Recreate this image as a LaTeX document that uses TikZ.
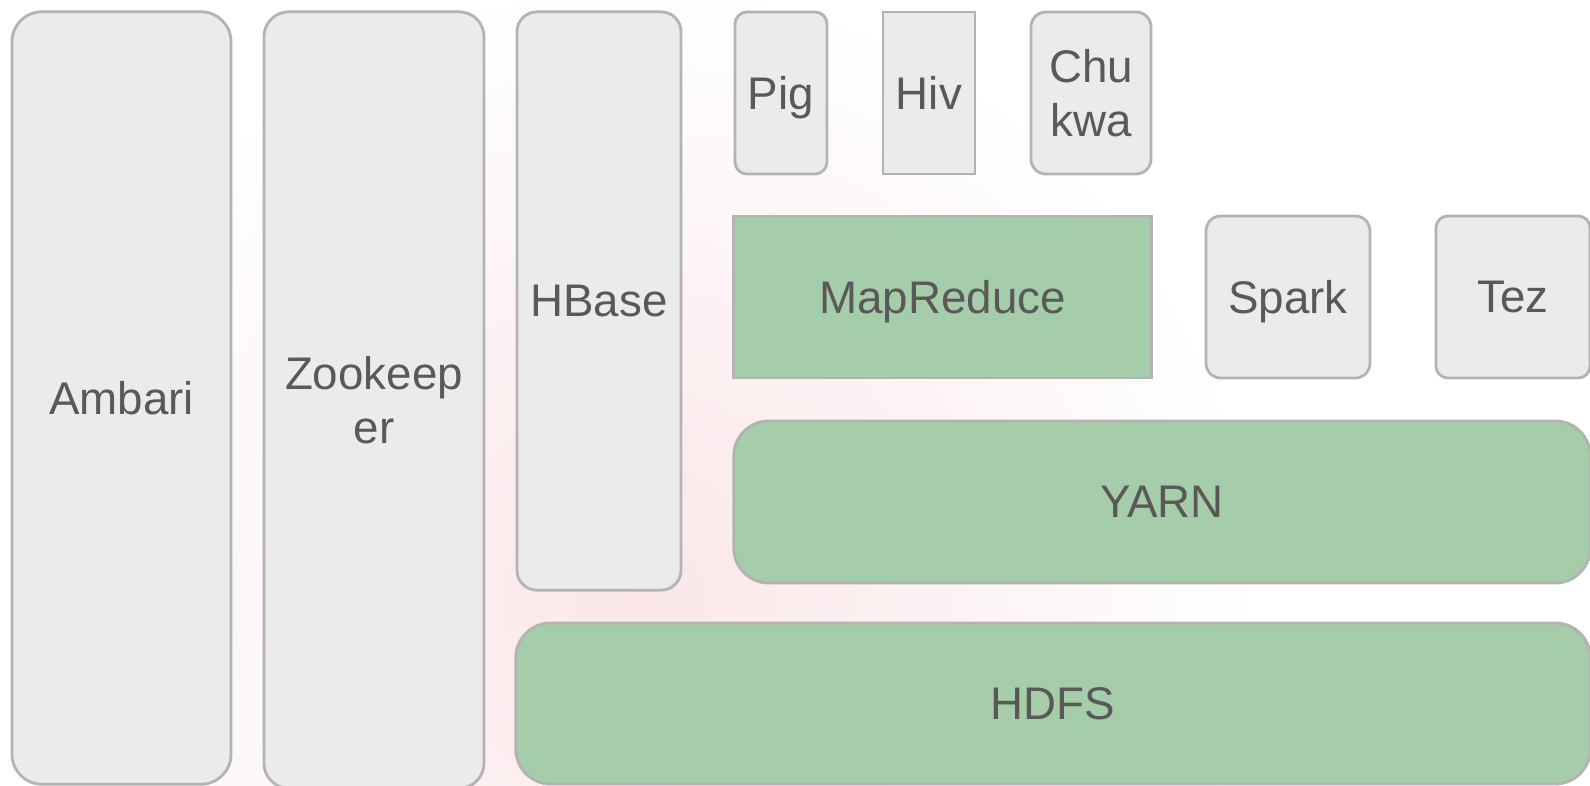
\documentclass[tikz,border=0pt]{standalone}
\usepackage{fontspec}
\setmainfont{Liberation Sans}
\definecolor{boxgray}{HTML}{EBEBEB}
\definecolor{edgegray}{HTML}{B3B3B3}
\definecolor{hadoopgreen}{HTML}{A6CDAA}
\definecolor{textgray}{HTML}{595959}
\definecolor{blushpink}{HTML}{FAE6E8}

\begin{document}
\begin{tikzpicture}[x=0.01cm, y=-0.01cm,
    every node/.style={font=\fontsize{13}{15.5}\selectfont, text=textgray, align=center, inner sep=0pt, text depth=0pt},
    graybox/.style={draw=edgegray, line width=0.8pt, fill=boxgray},
    greenbox/.style={draw=edgegray, line width=0.8pt, fill=hadoopgreen}]
                \useasboundingbox (0,0) rectangle (1590,786);
                \shade[inner color=blushpink, outer color=white] (640,600) circle (6.2cm);
                \node[graybox, rounded corners=0.3cm, minimum width=2.19cm, minimum height=7.72cm] (ambari) at (121.5,398) {Ambari};
                \node[graybox, rounded corners=0.25cm, minimum width=2.2cm, minimum height=7.76cm] (zookeeper) at (374,400) {Zookeep\\er};
                \node[graybox, rounded corners=0.2cm, minimum width=1.64cm, minimum height=5.78cm] (hbase) at (599,301) {HBase};
                \node[graybox, rounded corners=0.12cm, minimum width=0.92cm, minimum height=1.62cm] (pig) at (781,93) {Pig};
                \node[graybox, minimum width=0.92cm, minimum height=1.62cm] (hiv) at (929,93) {Hiv};
                \node[graybox, rounded corners=0.15cm, minimum width=1.2cm, minimum height=1.62cm] (chukwa) at (1091,93) {Chu\\kwa};
                \node[greenbox, minimum width=4.17cm, minimum height=1.62cm] (mapreduce) at (942.5,297) {MapReduce};
                \node[graybox, rounded corners=0.15cm, minimum width=1.64cm, minimum height=1.62cm] (spark) at (1288,297) {Spark};
                \node[graybox, rounded corners=0.12cm, minimum width=1.54cm, minimum height=1.62cm] (tez) at (1513,297) {Tez};
                \node[greenbox, rounded corners=0.35cm, minimum width=8.56cm, minimum height=1.62cm] (yarn) at (1162,502) {YARN};
                \node[greenbox, rounded corners=0.35cm, minimum width=10.74cm, minimum height=1.61cm] (hdfs) at (1053,703.5) {HDFS};
            \end{tikzpicture}
\end{document}
